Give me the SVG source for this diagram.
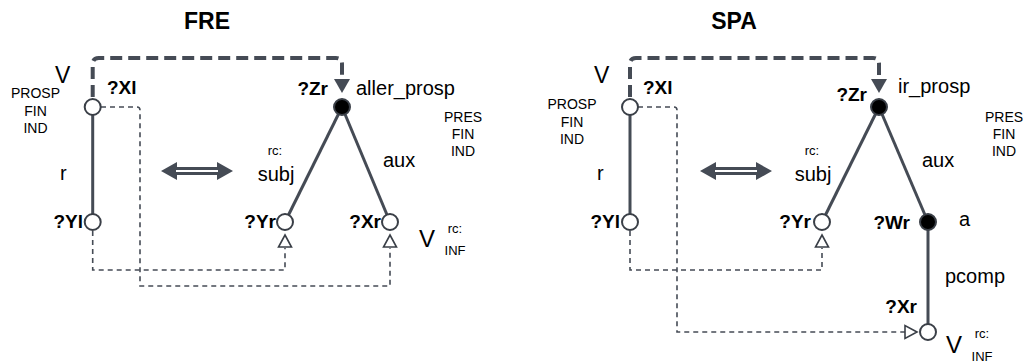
<svg xmlns="http://www.w3.org/2000/svg" width="1026" height="364" viewBox="0 0 1026 364">
<style>
text{font-family:"Liberation Sans",Arial,sans-serif;fill:#000}
.t{font-size:23px;font-weight:bold;text-anchor:middle}
.b{font-size:19px;font-weight:bold}
.n{font-size:20px}
.s{font-size:14px;text-anchor:middle}
.r{font-size:13px;text-anchor:middle}
.v{font-size:23px}
.e{text-anchor:end}
.m{text-anchor:middle}
.solid{stroke:#454b55;stroke-width:3;fill:none}
.heavy{stroke:#454b55;stroke-width:4;fill:none;stroke-dasharray:12 6}
.thin{stroke:#454b55;stroke-width:1.6;fill:none;stroke-dasharray:5 4}
.wc{fill:#fff;stroke:#3a3f47;stroke-width:2}
.bc{fill:#000;stroke:#3a3f47;stroke-width:2}
.tri{fill:#fff;stroke:#3a3f47;stroke-width:1.6}
.arr{fill:#454b55}
</style>
<defs>
<g id="dbl">
<path d="M0 0 L16 -9 L16 -4 L56 -4 L56 -9 L72 0 L56 9 L56 4 L16 4 L16 9 Z" fill="#454b55"/>
<line x1="15" y1="0" x2="57" y2="0" stroke="#fff" stroke-width="2"/>
</g>
</defs>

<!-- Titles -->
<text class="t" x="207" y="29">FRE</text>
<text class="t" x="734" y="29">SPA</text>

<!-- Connectors -->
<g id="connectors">
  <!-- FRE -->
  <path class="heavy" d="M92.7 97 V64 Q92.7 58 98.7 58 H336 Q342 58 342 64 V80"/>
  <path class="arr" d="M334 79 L350 79 L342 93 Z"/>
  <line class="solid" x1="92.7" y1="107" x2="92.7" y2="222"/>
  <line class="solid" x1="342" y1="107" x2="285" y2="222"/>
  <line class="solid" x1="342" y1="107" x2="390" y2="222"/>
  <path class="thin" d="M101 107 H137 Q140 107 140 110 V286 H390 V248"/>
  <path class="thin" d="M92.7 231 V270 H285 V248"/>
  <path class="tri" d="M285 235 L291.5 247 L278.5 247 Z"/>
  <path class="tri" d="M390 235 L396.5 247 L383.5 247 Z"/>
  <use href="#dbl" x="161" y="171"/>
  <!-- SPA -->
  <path class="heavy" d="M630 97 V64 Q630 58 636 58 H873 Q879 58 879 64 V80"/>
  <path class="arr" d="M871 79 L887 79 L879 93 Z"/>
  <line class="solid" x1="630" y1="107" x2="630" y2="222"/>
  <line class="solid" x1="879" y1="107" x2="822" y2="222"/>
  <line class="solid" x1="879" y1="107" x2="928" y2="222"/>
  <line class="solid" x1="928" y1="222" x2="928" y2="332"/>
  <path class="thin" d="M638 107 H674 Q677 107 677 110 V332 H905"/>
  <path class="thin" d="M630 231 V270 H822 V248"/>
  <path class="tri" d="M822 235 L828.5 247 L815.5 247 Z"/>
  <path class="tri" d="M917 332 L905 325.5 L905 338.5 Z"/>
  <use href="#dbl" x="700" y="171"/>
</g>

<!-- FRE nodes -->
<g id="fre-Xl">
  <circle class="wc" cx="92.7" cy="107" r="8"/>
  <text class="v" x="55" y="83">V</text>
  <text class="s" x="35.5" y="98">PROSP</text>
  <text class="s" x="35.5" y="116">FIN</text>
  <text class="s" x="35.5" y="133">IND</text>
  <text class="b" x="107" y="94">?Xl</text>
  <text class="n" x="60" y="180">r</text>
</g>
<g id="fre-Yl">
  <circle class="wc" cx="92.7" cy="222" r="8"/>
  <text class="b e" x="83" y="228">?Yl</text>
</g>
<g id="fre-Zr">
  <circle class="bc" cx="342" cy="107" r="8"/>
  <text class="b e" x="328" y="95">?Zr</text>
  <text class="n" x="356" y="95">aller_prosp</text>
  <text class="s" x="463" y="122">PRES</text>
  <text class="s" x="463" y="139">FIN</text>
  <text class="s" x="463" y="156">IND</text>
  <text class="r" x="275" y="155">rc:</text>
  <text class="n m" x="276" y="181">subj</text>
  <text class="n" x="383" y="167">aux</text>
</g>
<g id="fre-Yr">
  <circle class="wc" cx="285" cy="222" r="8"/>
  <text class="b e" x="276" y="228">?Yr</text>
</g>
<g id="fre-Xr">
  <circle class="wc" cx="390" cy="222" r="8"/>
  <text class="b e" x="381" y="228">?Xr</text>
  <text class="v" x="419" y="247" style="font-size:24px">V</text>
  <text class="r" x="455" y="233">rc:</text>
  <text class="r" x="455" y="255">INF</text>
</g>

<!-- SPA nodes -->
<g id="spa-Xl">
  <circle class="wc" cx="630" cy="107" r="8"/>
  <text class="v" x="594" y="83">V</text>
  <text class="s" x="572" y="109">PROSP</text>
  <text class="s" x="572" y="127">FIN</text>
  <text class="s" x="572" y="144">IND</text>
  <text class="b" x="643" y="94">?Xl</text>
  <text class="n" x="597" y="180">r</text>
</g>
<g id="spa-Yl">
  <circle class="wc" cx="630" cy="222" r="8"/>
  <text class="b e" x="620" y="228">?Yl</text>
</g>
<g id="spa-Zr">
  <circle class="bc" cx="879" cy="107" r="8"/>
  <text class="b e" x="867" y="101">?Zr</text>
  <text class="n" x="898" y="93">ir_prosp</text>
  <text class="s" x="1004" y="122">PRES</text>
  <text class="s" x="1004" y="139">FIN</text>
  <text class="s" x="1004" y="156">IND</text>
  <text class="r" x="812" y="155">rc:</text>
  <text class="n m" x="813" y="181">subj</text>
  <text class="n" x="922" y="167">aux</text>
</g>
<g id="spa-Yr">
  <circle class="wc" cx="822" cy="222" r="8"/>
  <text class="b e" x="811" y="228">?Yr</text>
</g>
<g id="spa-Wr">
  <circle class="bc" cx="928" cy="222" r="8"/>
  <text class="b e" x="910" y="229">?Wr</text>
  <text class="n" x="959" y="226">a</text>
  <text class="n" x="945" y="283">pcomp</text>
</g>
<g id="spa-Xr">
  <circle class="wc" cx="928" cy="332" r="8"/>
  <text class="b e" x="917" y="313">?Xr</text>
  <text class="v" x="946" y="353" style="font-size:24px">V</text>
  <text class="r" x="982" y="338">rc:</text>
  <text class="r" x="982" y="361">INF</text>
</g>
</svg>
